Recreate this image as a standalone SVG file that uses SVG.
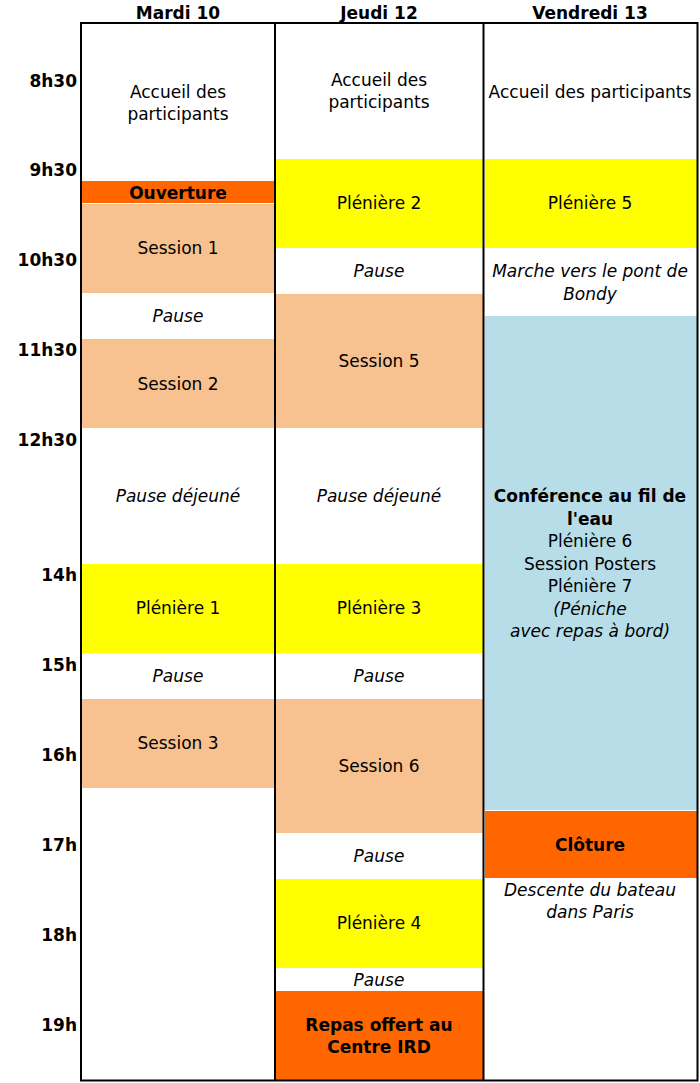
<svg xmlns="http://www.w3.org/2000/svg" width="700" height="1083" viewBox="0 0 700 1083">
<style>
text{font-family:"DejaVu Sans","Verdana",sans-serif;font-size:17px;fill:#000;text-anchor:middle}
.b{font-weight:bold}
.i{font-style:italic}
.t{text-anchor:end;font-weight:bold}
.or{fill:#FF6600}
.pe{fill:#F8C190}
.ye{fill:#FFFF00}
.bl{fill:#B7DDE8}
.wh{fill:#FFFFFF}
.ln{stroke:#000;stroke-width:2;fill:none}
</style>
<rect width="700" height="1083" fill="#fff"/>
<g id="headers">
<text class="b" x="178" y="19">Mardi 10</text>
<text class="b" x="379" y="19">Jeudi 12</text>
<text class="b" x="590" y="19">Vendredi 13</text>
</g>
<g id="times">
<text class="t" x="77" y="87">8h30</text>
<text class="t" x="77" y="176">9h30</text>
<text class="t" x="77" y="266">10h30</text>
<text class="t" x="77" y="356">11h30</text>
<text class="t" x="77" y="446">12h30</text>
<text class="t" x="77" y="581">14h</text>
<text class="t" x="77" y="671">15h</text>
<text class="t" x="77" y="761">16h</text>
<text class="t" x="77" y="851">17h</text>
<text class="t" x="77" y="941">18h</text>
<text class="t" x="77" y="1031">19h</text>
</g>
<g id="mardi">
<g id="m-accueil"><text x="178" y="98">Accueil des</text><text x="178" y="120">participants</text></g>
<g id="m-ouverture"><rect class="or" x="82" y="181" width="192" height="22"/><text class="b" x="178" y="199">Ouverture</text></g>
<g id="m-session1"><rect class="pe" x="82" y="204" width="192" height="89"/><text x="178" y="254">Session 1</text></g>
<g id="m-pause1"><text class="i" x="178" y="322">Pause</text></g>
<g id="m-session2"><rect class="pe" x="82" y="339" width="192" height="89"/><text x="178" y="390">Session 2</text></g>
<g id="m-dej"><text class="i" x="178" y="502">Pause déjeuné</text></g>
<g id="m-pleniere1"><rect class="ye" x="82" y="564" width="192" height="89"/><text x="178" y="614">Plénière 1</text></g>
<g id="m-pause2"><text class="i" x="178" y="682">Pause</text></g>
<g id="m-session3"><rect class="pe" x="82" y="699" width="192" height="89"/><text x="178" y="749">Session 3</text></g>
</g>
<g id="jeudi">
<g id="j-accueil"><text x="379" y="86">Accueil des</text><text x="379" y="108">participants</text></g>
<g id="j-pleniere2"><rect class="ye" x="276" y="159" width="207" height="89"/><text x="379" y="209">Plénière 2</text></g>
<g id="j-pause1"><text class="i" x="379" y="277">Pause</text></g>
<g id="j-session5"><rect class="pe" x="276" y="294" width="207" height="134"/><text x="379" y="367">Session 5</text></g>
<g id="j-dej"><text class="i" x="379" y="502">Pause déjeuné</text></g>
<g id="j-pleniere3"><rect class="ye" x="276" y="564" width="207" height="89"/><text x="379" y="614">Plénière 3</text></g>
<g id="j-pause2"><text class="i" x="379" y="682">Pause</text></g>
<g id="j-session6"><rect class="pe" x="276" y="699" width="207" height="134"/><text x="379" y="772">Session 6</text></g>
<g id="j-pause3"><text class="i" x="379" y="862">Pause</text></g>
<g id="j-pleniere4"><rect class="ye" x="276" y="879" width="207" height="89"/><text x="379" y="929">Plénière 4</text></g>
<g id="j-pause4"><text class="i" x="379" y="986">Pause</text></g>
<g id="j-repas"><rect class="or" x="276" y="991" width="207" height="89"/><text class="b" x="379" y="1031">Repas offert au</text><text class="b" x="379" y="1053">Centre IRD</text></g>
</g>
<g id="vendredi">
<g id="v-accueil"><text x="590" y="98">Accueil des participants</text></g>
<g id="v-pleniere5"><rect class="ye" x="485" y="159" width="212" height="89"/><text x="590" y="209">Plénière 5</text></g>
<g id="v-marche"><text class="i" x="590" y="277">Marche vers le pont de</text><text class="i" x="590" y="300">Bondy</text></g>
<g id="v-conf"><rect class="bl" x="485" y="316" width="212" height="494"/>
<text class="b" x="590" y="502">Conférence au fil de</text>
<text class="b" x="590" y="524.5">l'eau</text>
<text x="590" y="547">Plénière 6</text>
<text x="590" y="569.5">Session Posters</text>
<text x="590" y="592">Plénière 7</text>
<text class="i" x="590" y="614.5">(Péniche</text>
<text class="i" x="590" y="637">avec repas à bord)</text>
</g>
<g id="v-cloture"><rect class="or" x="485" y="811" width="212" height="67"/><text class="b" x="590" y="851">Clôture</text></g>
<g id="v-descente"><text class="i" x="590" y="896">Descente du bateau</text><text class="i" x="590" y="918">dans Paris</text></g>
</g>
<g id="grid">
<rect class="ln" x="81" y="23" width="616.5" height="1057.5"/>
<line class="ln" x1="275" y1="23" x2="275" y2="1080.5"/>
<line class="ln" x1="483.5" y1="23" x2="483.5" y2="1080.5"/>
</g>
</svg>
